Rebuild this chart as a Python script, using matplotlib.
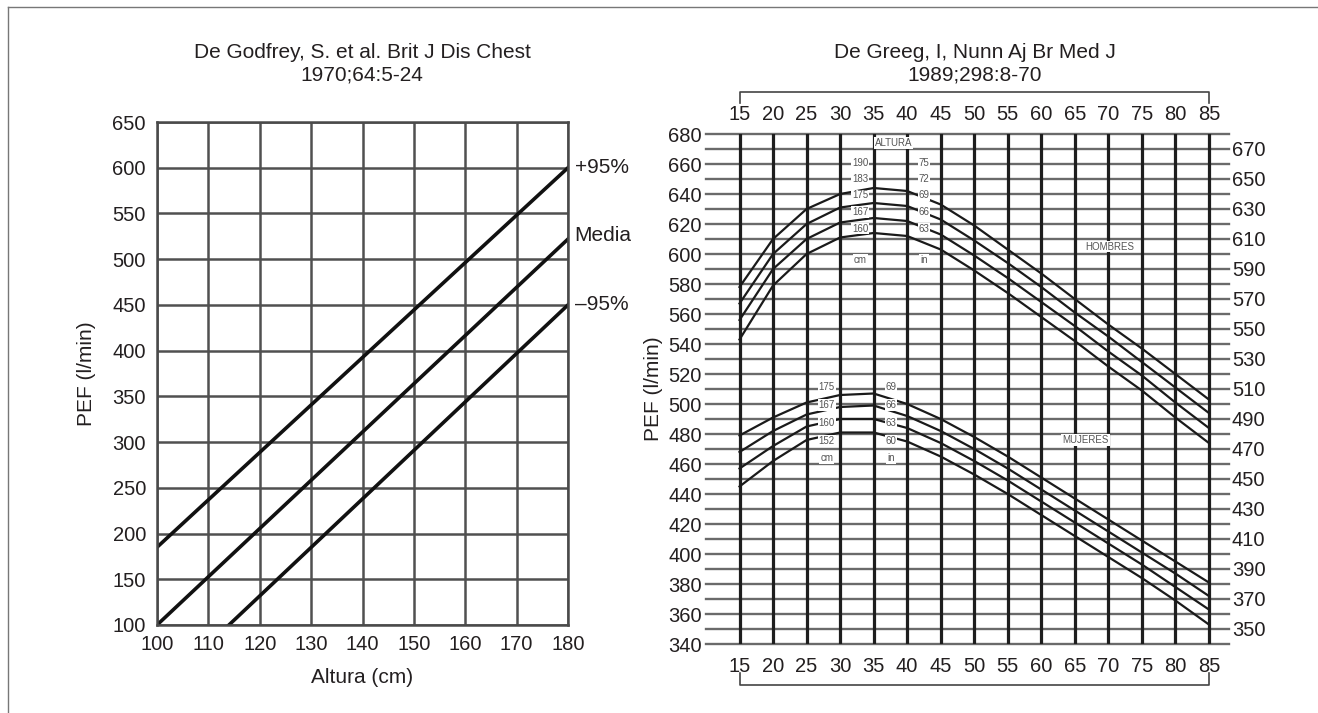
import matplotlib.pyplot as plt
from matplotlib.lines import Line2D

plt.rcParams['font.family'] = ['Liberation Sans', 'DejaVu Sans']

# --- panel izquierdo: Godfrey 1970 (PEF vs altura) ---
altura_sup = [100, 180]
pef_sup = [185, 600]
altura_media = [100, 180]
pef_media = [100, 522]
altura_inf = [114, 180]
pef_inf = [100, 450]
etiquetas_izq = ['+95%', 'Media', '–95%']

# --- panel derecho: Gregg & Nunn 1989 (PEF vs edad) ---
edades = [15, 20, 25, 30, 35, 40, 45, 50, 55, 60, 65, 70, 75, 80, 85]
pef_hombres_1 = [578, 610, 630, 640, 644, 642, 633, 619, 603, 587, 570, 553, 537, 520, 503]
pef_hombres_2 = [567, 600, 620, 631, 634, 632, 623, 609, 594, 578, 561, 545, 528, 511, 494]
pef_hombres_3 = [556, 590, 610, 621, 624, 622, 613, 599, 584, 568, 552, 535, 519, 501, 484]
pef_hombres_4 = [543, 579, 600, 611, 614, 612, 603, 589, 574, 558, 542, 525, 509, 491, 474]
pef_mujeres_1 = [479, 491, 501, 506, 507, 500, 490, 478, 465, 451, 437, 423, 409, 395, 381]
pef_mujeres_2 = [468, 482, 493, 498, 499, 492, 482, 470, 457, 443, 429, 415, 401, 387, 372]
pef_mujeres_3 = [457, 472, 485, 490, 490, 484, 474, 462, 449, 435, 421, 407, 393, 378, 363]
pef_mujeres_4 = [445, 462, 476, 481, 481, 475, 465, 453, 440, 426, 412, 398, 384, 369, 353]
altura_h_cm = ['190', '183', '175', '167', '160', 'cm']
altura_h_in = ['75', '72', '69', '66', '63', 'in']
altura_m_cm = ['175', '167', '160', '152', 'cm']
altura_m_in = ['69', '66', '63', '60', 'in']

W, H = 1318, 713
ink = '#231f20'
fs_tick = 14.5
fs_lab = 15


def box(x0, y0, x1, y1):
    return [x0 / W, 1 - y1 / H, (x1 - x0) / W, (y1 - y0) / H]


fig = plt.figure(figsize=(W / 100, H / 100), dpi=100)

# border of the figure (top and left only)
fig.add_artist(Line2D([8 / W, 8 / W], [1 - 7 / H, 0], color='#777', lw=1))
fig.add_artist(Line2D([8 / W, 1], [1 - 7 / H, 1 - 7 / H], color='#777', lw=1))

# ---------------- left chart ----------------
ax1 = fig.add_axes(box(157, 122, 568, 625))
ax1.set_xlim(100, 180)
ax1.set_ylim(100, 650)
ax1.set_xticks(range(100, 181, 10))
ax1.set_yticks(range(100, 651, 50))
ax1.grid(True, color='#505050', lw=1.8)
for s in ax1.spines.values():
    s.set_color('#4a4a4a')
    s.set_linewidth(1.8)
ax1.tick_params(length=0, labelsize=fs_tick, colors=ink)
ax1.tick_params(axis='y', pad=8)
ax1.tick_params(axis='x', pad=7)

ax1.plot(altura_sup, pef_sup, color='#111', lw=2.6)
ax1.plot(altura_media, pef_media, color='#111', lw=2.6)
ax1.plot(altura_inf, pef_inf, color='#111', lw=2.6)
for lab, y in zip(etiquetas_izq, [pef_sup[-1], pef_media[-1], pef_inf[-1]]):
    ax1.text(181.3, y + (4 if lab == 'Media' else 0), lab, fontsize=fs_lab,
             color=ink, va='center', ha='left', clip_on=False)

ax1.set_xlabel('Altura (cm)', fontsize=fs_lab, color=ink, labelpad=10)
ax1.set_ylabel('PEF (l/min)', fontsize=fs_lab, color=ink, labelpad=12)

fig.text(362 / W, 1 - 53 / H, 'De Godfrey, S. et al. Brit J Dis Chest',
         ha='center', va='center', fontsize=fs_lab, color=ink)
fig.text(362 / W, 1 - 75 / H, '1970;64:5-24',
         ha='center', va='center', fontsize=fs_lab, color=ink)

# ---------------- right chart ----------------
ax2 = fig.add_axes(box(706, 134, 1229, 644))
ax2.set_xlim(10, 88)
ax2.set_ylim(340, 680)
for s in ax2.spines.values():
    s.set_visible(False)

for v in range(340, 681, 10):
    ax2.axhline(v, color='#6a6a6a', lw=1.7, zorder=1, clip_on=False)
for e in edades:
    ax2.plot([e, e], [340, 680], color='#1e1e1e', lw=2.3, zorder=2)

for serie in [pef_hombres_1, pef_hombres_2, pef_hombres_3, pef_hombres_4,
              pef_mujeres_1, pef_mujeres_2, pef_mujeres_3, pef_mujeres_4]:
    ax2.plot(edades, serie, color='#1a1a1a', lw=1.6, zorder=3)

ax2.set_xticks(edades)
ax2.set_yticks(range(340, 681, 20))
ax2.tick_params(length=0, labelsize=fs_tick, colors=ink)
ax2.tick_params(axis='x', pad=9)
ax2.tick_params(axis='y', pad=3)

top = ax2.secondary_xaxis('top')
top.set_xticks(edades)
top.tick_params(length=0, labelsize=fs_tick, colors=ink, pad=7)
for s in top.spines.values():
    s.set_visible(False)

right = ax2.secondary_yaxis('right')
right.set_yticks(range(350, 671, 20))
right.tick_params(length=0, labelsize=fs_tick, colors=ink, pad=2)
for s in right.spines.values():
    s.set_visible(False)

ax2.set_ylabel('PEF (l/min)', fontsize=fs_lab, color=ink, labelpad=4)

# brackets above and below the age scale
ax2.plot([15, 15, 85, 85], [701, 708, 708, 701], color='#444', lw=1.2, clip_on=False)
ax2.plot([15, 15, 85, 85], [321, 313, 313, 321], color='#444', lw=1.2, clip_on=False)

# small scanned-style labels inside the nomogram
lab_kw = dict(fontsize=7, color='#555', ha='center', va='center', zorder=4,
              bbox=dict(facecolor='white', edgecolor='none', pad=0.6))
for i, t in enumerate(altura_h_cm):
    y = 661 - 11 * i if t != 'cm' else 596
    ax2.text(33, y, t, **lab_kw)
for i, t in enumerate(altura_h_in):
    y = 661 - 11 * i if t != 'in' else 596
    ax2.text(42.5, y, t, **lab_kw)
ax2.text(38, 674, 'ALTURA', **lab_kw)
for i, t in enumerate(altura_m_cm):
    ax2.text(28, 511 - 11.8 * i, t, **lab_kw)
for i, t in enumerate(altura_m_in):
    ax2.text(37.6, 511 - 11.8 * i, t, **lab_kw)
ax2.text(70.2, 605, 'HOMBRES', **lab_kw)
ax2.text(66.6, 476, 'MUJERES', **lab_kw)

fig.text(975 / W, 1 - 53 / H, 'De Greeg, I, Nunn Aj Br Med J',
         ha='center', va='center', fontsize=fs_lab, color=ink)
fig.text(975 / W, 1 - 75 / H, '1989;298:8-70',
         ha='center', va='center', fontsize=fs_lab, color=ink)

fig.savefig('out.png', dpi=100)
